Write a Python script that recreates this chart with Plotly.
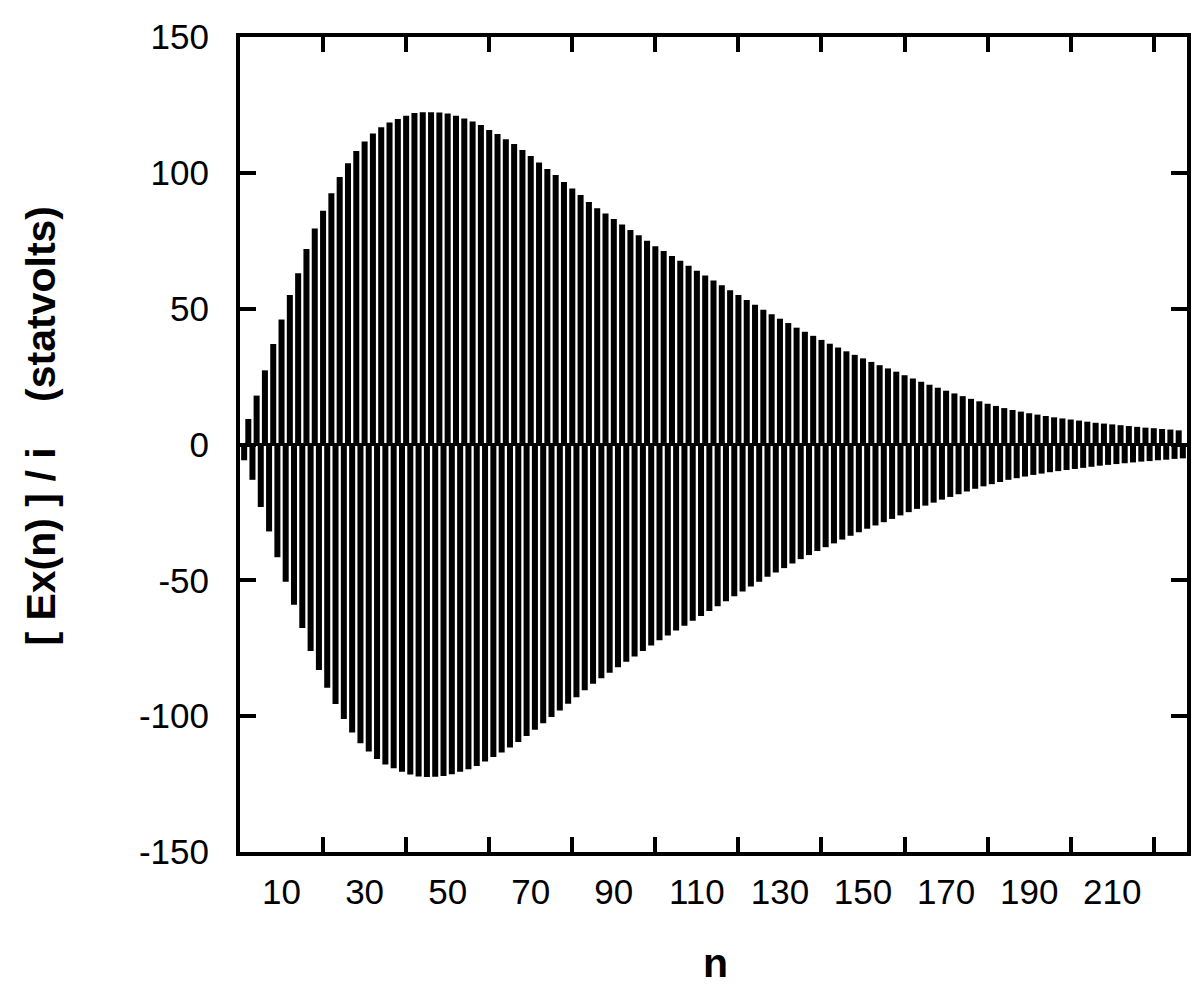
import plotly.graph_objects as go

# Positive bars at even n (2..226), read from the upper envelope
n_pos = list(range(2, 227, 2))
pos_values = [
    9.4, 18, 27.3, 37, 46, 55, 63, 72, 79.5, 86,
    92.5, 98.5, 103.5, 108, 111.5, 114.5, 116.8, 118.5, 119.8, 121,
    122, 122.3, 122.3, 122.2, 121.8, 121, 120, 118.9, 117.6, 115.8,
    114.3, 112.4, 110.6, 108.4, 106.2, 103.8, 101.4, 99.2, 96.6, 94.2,
    91.8, 89.3, 87, 85, 83, 81, 79, 77, 75, 73,
    71.2, 69.4, 67.6, 65.8, 64, 62.2, 60.4, 58.6, 56.8, 55,
    53.2, 51.4, 49.6, 47.9, 46.3, 44.7, 43, 41.5, 40, 38.5,
    37.1, 35.7, 34.3, 33, 31.7, 30.4, 29.2, 28, 26.8, 25.5,
    24.3, 23.1, 22, 20.9, 19.8, 18.8, 17.8, 16.8, 15.9, 15,
    14.2, 13.4, 12.7, 12.1, 11.5, 11, 10.5, 10, 9.6, 9.2,
    8.8, 8.4, 8, 7.7, 7.4, 7.1, 6.8, 6.5, 6.2, 6,
    5.7, 5.5, 5.2,
]

# Negative bars at odd n (1..227), read from the lower envelope
n_neg = list(range(1, 228, 2))
neg_values = [
    -5.8, -13, -23, -32, -41.5, -50.5, -59, -67.5, -76, -83,
    -89.5, -95.5, -101, -106, -110, -113, -115.8, -117.8, -119.2, -120.5,
    -121.5, -122.2, -122.4, -122.3, -122, -121.4, -120.5, -119.5, -118.3, -116.7,
    -115, -113.4, -111.5, -109.5, -107.3, -105, -102.6, -100.3, -97.9, -95.4,
    -93, -90.5, -88.1, -86, -84, -82, -80, -78, -76, -74,
    -72.1, -70.3, -68.5, -66.7, -64.9, -63.1, -61.3, -59.5, -57.7, -55.9,
    -54.1, -52.3, -50.5, -48.7, -47.1, -45.5, -43.8, -42.2, -40.7, -39.2,
    -37.8, -36.4, -35, -33.6, -32.3, -31, -29.8, -28.6, -27.4, -26.1,
    -24.9, -23.7, -22.5, -21.4, -20.3, -19.3, -18.3, -17.3, -16.3, -15.4,
    -14.6, -13.8, -13, -12.4, -11.8, -11.2, -10.7, -10.2, -9.8, -9.4,
    -9, -8.6, -8.2, -7.8, -7.5, -7.2, -6.9, -6.6, -6.3, -6.1,
    -5.8, -5.6, -5.3, -5.1,
]

x_label_vals = [10, 30, 50, 70, 90, 110, 130, 150, 170, 190, 210]
x_tick_marks = [20, 40, 60, 80, 100, 120, 140, 160, 180, 200, 220]
y_tick_vals = [-150, -100, -50, 0, 50, 100, 150]

FONT = "Liberation Sans, Arial, sans-serif"

fig = go.Figure()
fig.add_trace(go.Bar(x=n_pos, y=pos_values, width=1.45,
                     marker=dict(color="black", line=dict(width=0)), showlegend=False))
fig.add_trace(go.Bar(x=n_neg, y=neg_values, width=1.45,
                     marker=dict(color="black", line=dict(width=0)), showlegend=False))

# figure is slightly smaller than the window to account for the page's default 8px body margin
fig.update_layout(
    width=1192, height=988,
    margin=dict(l=232, r=9, t=16, b=144),
    paper_bgcolor="white", plot_bgcolor="white",
    barmode="overlay",
    font=dict(family=FONT, color="black", size=35),
    xaxis=dict(
        range=[0, 228],
        tickmode="array", tickvals=x_label_vals, ticktext=[str(v) for v in x_label_vals],
        ticks="", showgrid=False, zeroline=False,
        showline=True, linecolor="black", linewidth=4, mirror="allticks",
        ticklabelstandoff=6, ticklabeloverflow="allow",
        tickfont=dict(size=35, family=FONT, color="black"),
        minor=dict(tickmode="array", tickvals=x_tick_marks, ticks="inside",
                   ticklen=15, tickwidth=4, tickcolor="black", showgrid=False),
    ),
    yaxis=dict(
        range=[-150, 150],
        tickmode="array", tickvals=y_tick_vals, ticktext=[str(v) for v in y_tick_vals],
        ticks="inside", ticklen=16, tickwidth=4, tickcolor="black",
        showgrid=False, zeroline=True, zerolinecolor="black", zerolinewidth=3,
        showline=True, linecolor="black", linewidth=4, mirror="allticks",
        ticklabelstandoff=20, ticklabeloverflow="allow",
        tickfont=dict(size=35, family=FONT, color="black"),
    ),
    annotations=[
        dict(text="<b>[ Ex(n) ] / i\u00a0\u00a0\u00a0\u00a0(statvolts)</b>",
             xref="paper", yref="paper", x=-0.2103, y=0.523,
             textangle=-90, showarrow=False, xanchor="center", yanchor="middle",
             font=dict(size=41, family=FONT, color="black")),
        dict(text="<b>n</b>", xref="paper", yref="paper", x=0.5026, y=-0.1365,
             showarrow=False, xanchor="center", yanchor="middle",
             font=dict(size=41, family=FONT, color="black")),
    ],
)

fig.write_html("out.html")
